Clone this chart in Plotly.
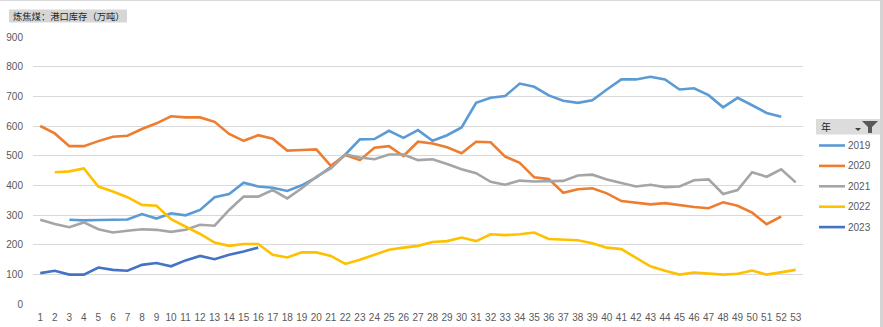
import plotly.graph_objects as go

# ---- data ----
weeks = list(range(1, 54))
years = ["2019", "2020", "2021", "2022", "2023"]
colors = ["#5B9BD5", "#ED7D31", "#A5A5A5", "#FFC000", "#4472C4"]

s2019 = [None, None, 284, 282, 283, 284, 285, 303, 288, 306, 299, 317, 360, 371, 409, 396,
         392, 381, 400, 427, 462, 504, 555, 556, 584, 560, 586, 550, 569, 595, 678, 695,
         701, 743, 732, 703, 685, 678, 687, 723, 757, 757, 766, 757, 723, 727, 704, 663,
         695, 670, 644, 631, None]
s2020 = [600, 575, 532, 532, 549, 564, 567, 590, 609, 633, 629, 629, 614, 573, 550, 569,
         557, 517, 519, 521, 466, 502, 485, 527, 532, 499, 547, 541, 528, 508, 547, 545,
         497, 476, 427, 421, 375, 387, 390, 373, 347, 342, 336, 340, 333, 327, 323, 343,
         331, 308, 269, 295, None]
s2021 = [284, 270, 259, 275, 252, 241, 247, 252, 250, 243, 250, 267, 264, 317, 362, 362,
         384, 356, 390, 429, 457, 504, 494, 488, 504, 504, 485, 488, 472, 454, 441, 412,
         402, 416, 413, 413, 415, 433, 436, 420, 407, 396, 402, 394, 396, 417, 420, 371,
         384, 444, 429, 454, 410]
s2022 = [None, 444, 447, 457, 396, 379, 360, 334, 331, 286, 261, 236, 207, 196, 202, 202,
         166, 157, 174, 174, 162, 135, 149, 166, 183, 190, 196, 209, 212, 224, 212, 235,
         232, 235, 241, 219, 216, 215, 205, 190, 185, 157, 127, 112, 99, 106, 102, 99,
         102, 113, 99, 106, 115]
s2023 = [104, 112, 99, 99, 123, 115, 112, 132, 138, 127, 147, 162, 151, 166, 177, 190]

series = [s2019, s2020, s2021, s2022, s2023]
y_ticks = [0, 100, 200, 300, 400, 500, 600, 700, 800, 900]
title_text = "炼焦煤：港口库存（万吨）"
legend_title = "年"

# ---- geometry ----
W, H = 883, 327
L, R, T, B = 33, 80, 37, 23
PW, PH = W - L - R, H - T - B


def px(x):
    return (x - L) / PW


def py(y):
    return 1 - (y - T) / PH


FONT = "Liberation Sans, Arial, sans-serif"
CJK = "Noto Sans CJK SC, sans-serif"

fig = go.Figure()
for name, col, vals in zip(years, colors, series):
    fig.add_trace(go.Scatter(
        x=weeks[:len(vals)], y=vals, mode="lines", name=name,
        line=dict(color=col, width=2.6), showlegend=False,
        connectgaps=False, hoverinfo="x+y+name"))

shapes = []
annotations = []

# outer frame (top & right)
shapes.append(dict(type="line", xref="paper", yref="paper", x0=px(0), x1=px(883),
                   y0=py(0.5), y1=py(0.5), line=dict(color="#d9d9d9", width=1)))
shapes.append(dict(type="line", xref="paper", yref="paper", x0=px(881.5), x1=px(881.5),
                   y0=py(0), y1=py(327), line=dict(color="#d4d4d4", width=3)))

# title box
shapes.append(dict(type="rect", xref="paper", yref="paper", x0=px(9), x1=px(127),
                   y0=py(22.5), y1=py(9.5), line=dict(width=0), fillcolor="#d6d6d6", layer="below"))
annotations.append(dict(text=title_text, xref="paper", yref="paper", x=px(68.5), y=py(16.2),
                        xanchor="center", yanchor="middle", showarrow=False,
                        font=dict(family=CJK, size=9.3, color="#262626")))

# legend header box
shapes.append(dict(type="rect", xref="paper", yref="paper", x0=px(816), x1=px(880),
                   y0=py(134.5), y1=py(119), line=dict(width=0), fillcolor="#dcdcdc", layer="below"))
annotations.append(dict(text=legend_title, xref="paper", yref="paper", x=px(819), y=py(127),
                        xanchor="left", yanchor="middle", showarrow=False,
                        font=dict(family=CJK, size=10, color="#262626")))


def path(points):
    return "M " + " L ".join(f"{px(a)},{py(b)}" for a, b in points) + " Z"


# dropdown triangle + filter funnel
shapes.append(dict(type="path", xref="paper", yref="paper",
                   path=path([(855, 128), (861, 128), (858, 131)]),
                   fillcolor="#404040", line=dict(width=0)))
shapes.append(dict(type="path", xref="paper", yref="paper",
                   path=path([(862, 121), (878, 121), (872, 127), (872, 133), (868, 133), (868, 127)]),
                   fillcolor="#595959", line=dict(width=0)))

# legend entries
for i, (name, col) in enumerate(zip(years, colors)):
    yy = 145.5 + i * 20.4
    shapes.append(dict(type="line", xref="paper", yref="paper", x0=px(819), x1=px(845),
                       y0=py(yy), y1=py(yy), line=dict(color=col, width=2.6)))
    annotations.append(dict(text=name, xref="paper", yref="paper", x=px(846), y=py(yy),
                            xanchor="left", yanchor="middle", showarrow=False,
                            font=dict(family=FONT, size=10, color="#595959")))

fig.update_layout(
    width=W, height=H,
    margin=dict(l=L, r=R, t=T, b=B, pad=0, autoexpand=False),
    paper_bgcolor="white", plot_bgcolor="white",
    shapes=shapes, annotations=annotations,
    showlegend=False,
    xaxis=dict(range=[0.5, 53.5], tickmode="array", tickvals=weeks,
               ticktext=[str(w) for w in weeks], showgrid=False, zeroline=False,
               showline=False, ticks="", tickfont=dict(family=FONT, size=10, color="#595959"),
               ticklabelstandoff=6, automargin=False, fixedrange=True),
    yaxis=dict(range=[0, 900], tickmode="array", tickvals=y_ticks,
               showgrid=True, gridcolor="#d9d9d9", gridwidth=1, zeroline=False,
               showline=False, ticks="", tickfont=dict(family=FONT, size=10, color="#595959"),
               ticklabelstandoff=9, automargin=False, fixedrange=True),
)

fig.write_html("out.html")
